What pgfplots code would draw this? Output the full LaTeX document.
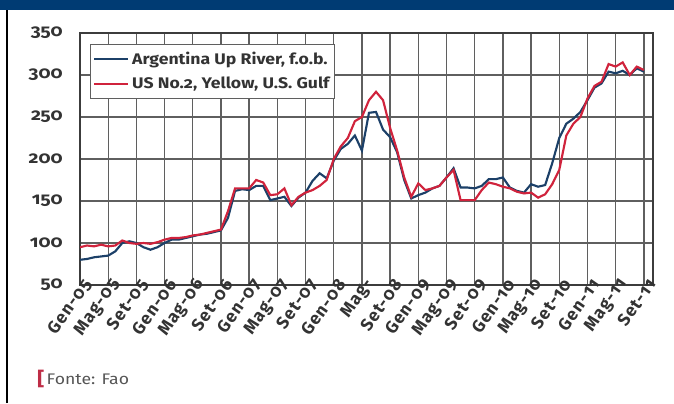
\documentclass[border=0pt]{standalone}
\usepackage{fontspec}
\setmainfont{Fira Sans}[Numbers=OldStyle, FakeStretch=1.15]
\newfontfamily\slantfont{Fira Sans}[Numbers=OldStyle, LetterSpace=6]
\usepackage{pgfplots}
\usepackage{pgfplotstable}
\pgfplotsset{compat=1.18}

\definecolor{band}{RGB}{0,59,115}
\definecolor{argblue}{RGB}{28,64,104}
\definecolor{usred}{RGB}{208,35,60}
\definecolor{gridgray}{RGB}{95,95,95}
\definecolor{framegray}{RGB}{60,60,60}
\definecolor{srcgray}{RGB}{85,85,85}
\definecolor{srcred}{RGB}{190,45,70}

% month index (0 = Gen-05), Argentina Up River f.o.b., US No.2 Yellow U.S. Gulf
\pgfplotstableread{
m arg us
0 80 95
1 81 97
2 83 96
3 84 98
4 85 96
5 90 97
6 100 103
7 102 100
8 100 99
9 95 100
10 92 99
11 95 101
12 100 104
13 104 106
14 104 106
15 106 107
16 108 109
17 110 110
18 111 112
19 113 114
20 115 116
21 130 138
22 162 165
23 164 165
24 163 165
25 168 175
26 168 172
27 151 157
28 153 158
29 155 165
30 144 145
31 154 155
32 160 160
33 174 163
34 183 168
35 177 175
36 198 200
37 212 215
38 218 225
39 228 245
40 210 250
41 255 270
42 256 280
43 235 270
44 226 237
45 208 210
46 175 178
47 153 155
48 157 171
49 160 163
50 165 165
51 168 168
52 178 178
53 189 187
54 166 151
55 166 151
56 165 151
57 168 163
58 176 172
59 176 170
60 178 167
61 166 165
62 162 161
63 160 159
64 170 160
65 167 154
66 169 158
67 195 170
68 225 187
69 242 228
70 248 242
71 256 250
72 270 272
73 285 287
74 290 292
75 304 313
76 302 310
77 305 315
78 300 300
79 308 310
80 304 306
}\maize

\begin{document}
\begin{tikzpicture}
\useasboundingbox (0pt,0pt) rectangle (505.5pt,302.25pt);
% header band and left rule
\fill[band] (0pt,294.75pt) rectangle (505.5pt,302.25pt);
\draw[black, line width=1.6pt] (5.25pt,0pt) -- (5.25pt,294.75pt);

\begin{axis}[
  at={(60pt,88.5pt)}, anchor=south west,
  scale only axis, width=429.75pt, height=189pt,
  xmin=0, xmax=81.3, ymin=50, ymax=350,
  xtick={0,4,...,80},
  xticklabels={Gen-05,Mag-05,Set-05,Gen-06,Mag-06,Set-06,Gen-07,Mag-07,Set-07,Gen-08,Mag-,Set-08,Gen-09,Mag-09,Set-09,Gen-10,Mag-10,Set-10,Gen-11,Mag-11,Set-11},
  ytick={50,100,...,350},
  /pgf/number format/assume math mode=true,
  major tick length=0pt,
  grid=major,
  major grid style={gridgray, line width=1pt},
  axis line style={framegray, line width=1.8pt},
  yticklabel style={font=\fontsize{12.5}{13}\selectfont\bfseries, text=black!80, anchor=east, xshift=-9.5pt},
  xticklabel style={font=\slantfont\fontsize{13}{13}\selectfont\bfseries, text=black!80, rotate=55, anchor=east, inner sep=1pt, xshift=7pt, yshift=-3pt},
  legend style={at={(0.0175,0.958)}, anchor=north west, draw=gridgray, line width=0.8pt,
    fill=white, font=\fontsize{11.5}{13}\selectfont\bfseries, text=black!80,
    inner xsep=2pt, inner ysep=4pt, row sep=4pt},
  legend cell align=left,
  legend image code/.code={\draw[#1, line width=1.6pt] (0cm,0cm) -- (0.9cm,0cm);},
]
\addplot[argblue, line width=1.6pt] table[x=m, y=arg] {\maize};
\addlegendentry{Argentina Up River, f.o.b.}
\addplot[usred, line width=1.6pt] table[x=m, y=us] {\maize};
\addlegendentry{US No.2, Yellow, U.S. Gulf}
\end{axis}

% source line
\node[anchor=west, text=srcred, font=\fontsize{14}{14}\selectfont\bfseries] at (24.5pt,18pt) {[};
\node[anchor=west, text=srcgray, font=\fontsize{11.5}{12}\selectfont] at (31.5pt,18pt) {Fonte: Fao};
\end{tikzpicture}
\end{document}
